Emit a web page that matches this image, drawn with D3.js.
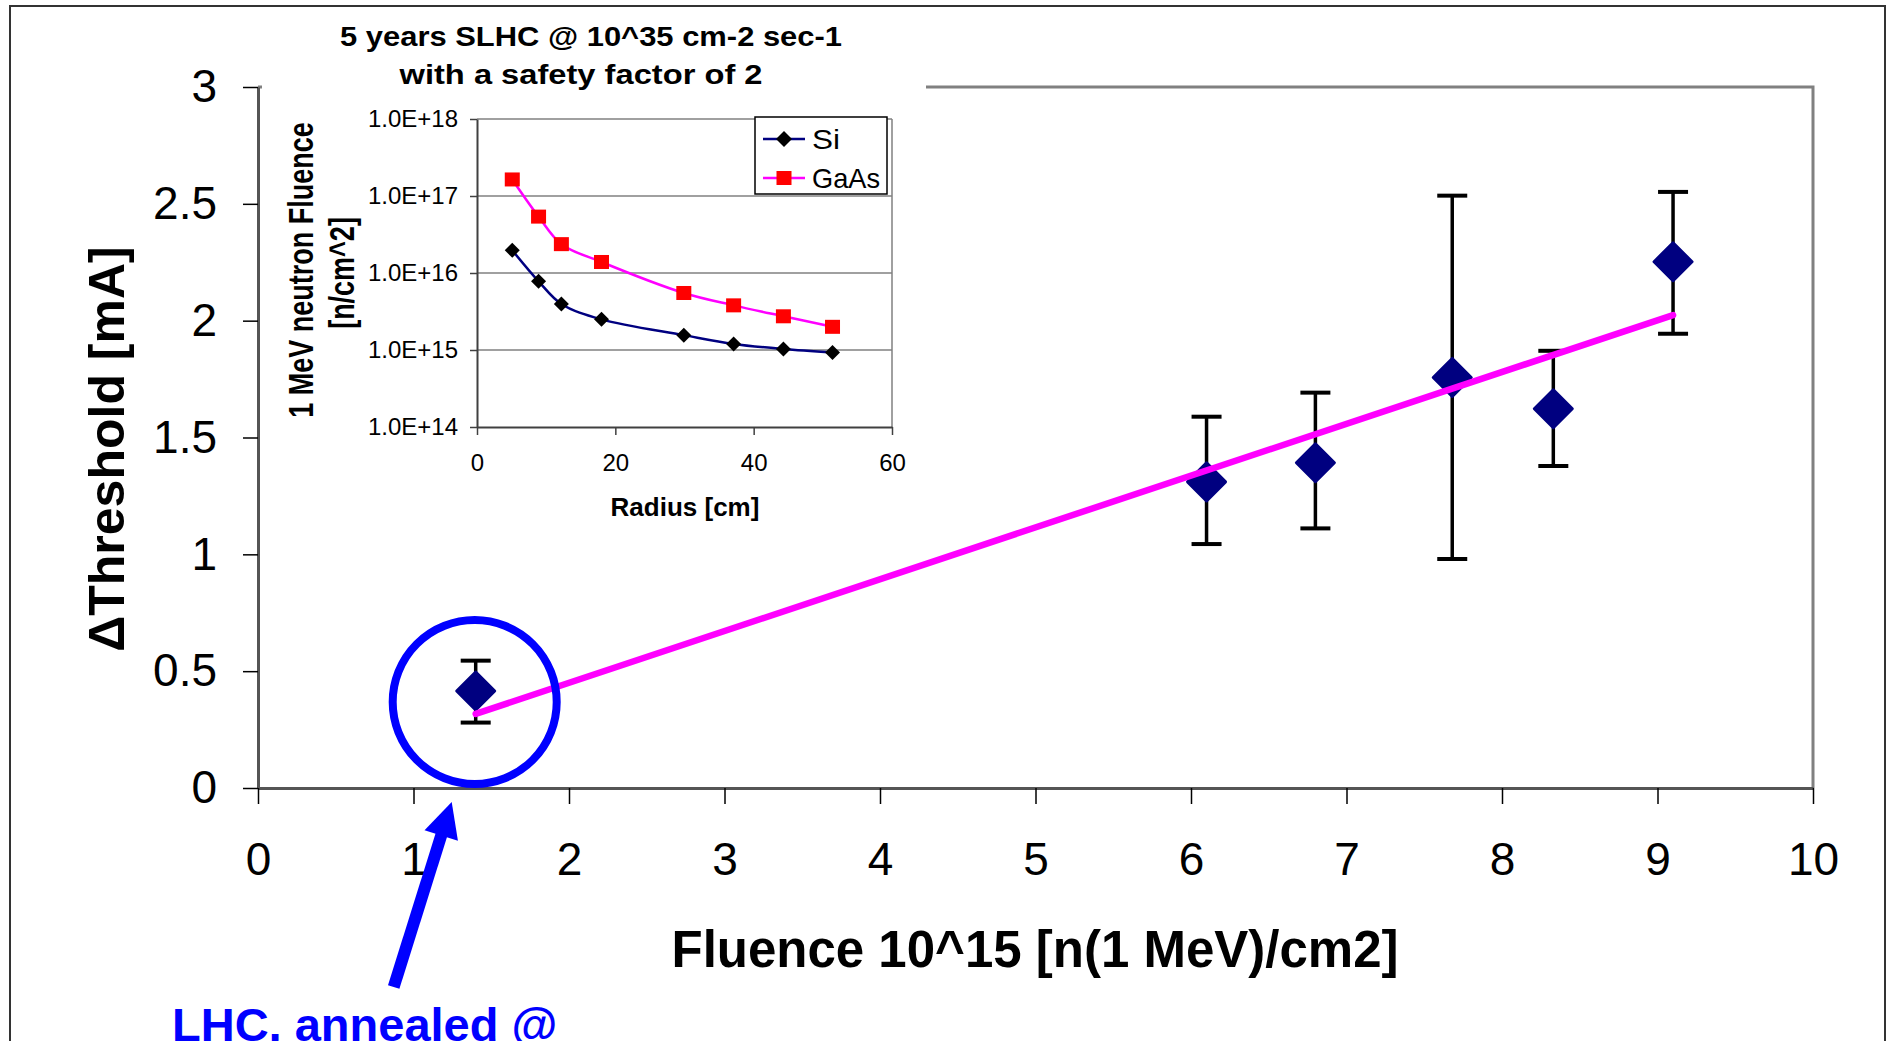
<!DOCTYPE html>
<html>
<head>
<meta charset="utf-8">
<script src="https://cdn.jsdelivr.net/npm/d3@7"></script>
<style>
  body { margin: 0; background: #fff; }
  svg { display: block; font-family: "Liberation Sans", Arial, sans-serif; }
</style>
</head>
<body>
<div id="chart"></div>
<script>
// main chart: threshold shift vs fluence
const fluence   = [1.4, 6.1, 6.8, 7.68, 8.33, 9.1];
const threshold = [0.415, 1.31, 1.392, 1.757, 1.623, 2.252];
const errLow    = [0.28, 1.044, 1.111, 0.98, 1.378, 1.944];
const errHigh   = [0.545, 1.589, 1.692, 2.535, 1.871, 2.551];
const fitX = [1.4, 9.1];
const fitY = [0.317, 2.024];
const xTicks = [0, 1, 2, 3, 4, 5, 6, 7, 8, 9, 10];
const yTicks = [0, 0.5, 1, 1.5, 2, 2.5, 3];

// inset: fluence vs radius
const radius = [5.1, 8.9, 12.2, 18, 29.9, 37.1, 44.3, 51.4];
const siFluence   = [1.97e16, 7.8e15, 3.96e15, 2.5e15, 1.56e15, 1.2e15, 1.03e15, 9.3e14];
const gaasFluence = [1.64e17, 5.4e16, 2.37e16, 1.39e16, 5.5e15, 3.8e15, 2.74e15, 2.0e15];
const insetXTicks = [0, 20, 40, 60];
const insetYTicks = [1e14, 1e15, 1e16, 1e17, 1e18];

const W = 1891, H = 1041;
const svg = d3.select("#chart").append("svg")
  .attr("width", W)
  .attr("height", H);

// outer frame
svg.append("rect")
  .attr("x", 10).attr("y", 6)
  .attr("width", 1875).attr("height", 1100)
  .attr("fill", "none")
  .attr("stroke", "#333")
  .attr("stroke-width", 2);

const plot = { left: 258, right: 1813, top: 87, bottom: 788 };
const x = d3.scaleLinear().domain([0, 10]).range([plot.left, plot.right]);
const y = d3.scaleLinear().domain([0, 3]).range([plot.bottom, plot.top]);

// top / right border of plot area
svg.append("path")
  .attr("d", `M${plot.left},${plot.top}H${plot.right}V${plot.bottom}`)
  .attr("fill", "none")
  .attr("stroke", "#808080")
  .attr("stroke-width", 3);

// axes
const yAxis = svg.append("g")
  .attr("transform", `translate(${plot.left},0)`)
  .call(d3.axisLeft(y).tickValues(yTicks).tickSize(15).tickSizeOuter(0)
    .tickPadding(26).tickFormat(d3.format("")));
const xAxis = svg.append("g")
  .attr("transform", `translate(0,${plot.bottom})`)
  .call(d3.axisBottom(x).tickValues(xTicks).tickSize(16).tickSizeOuter(0)
    .tickPadding(38).tickFormat(d3.format("")));

[yAxis, xAxis].forEach(g => {
  g.select(".domain").attr("stroke", "#555").attr("stroke-width", 3);
  g.selectAll(".tick line").attr("stroke", "#000").attr("stroke-width", 1.5);
  g.selectAll(".tick text")
    .attr("font-size", 46)
    .attr("font-family", "Liberation Sans, Arial, sans-serif")
    .attr("fill", "#000");
});

// axis titles
svg.append("text")
  .attr("transform", `translate(124,449) rotate(-90)`)
  .attr("text-anchor", "middle")
  .attr("font-size", 50)
  .attr("font-weight", "bold")
  .text("\u0394Threshold [mA]");

svg.append("text")
  .attr("x", 1035).attr("y", 967)
  .attr("text-anchor", "middle")
  .attr("font-size", 51)
  .attr("font-weight", "bold")
  .text("Fluence 10^15 [n(1 MeV)/cm2]");

const points = fluence.map((f, i) => ({
  x: f, y: threshold[i], lo: errLow[i], hi: errHigh[i]
}));

// error bars
const err = svg.append("g").attr("stroke", "#000");
err.selectAll(".stem").data(points).join("line")
  .attr("x1", d => x(d.x)).attr("x2", d => x(d.x))
  .attr("y1", d => y(d.lo)).attr("y2", d => y(d.hi))
  .attr("stroke-width", 3.5);
err.selectAll(".capHi").data(points).join("line")
  .attr("x1", d => x(d.x) - 15).attr("x2", d => x(d.x) + 15)
  .attr("y1", d => y(d.hi)).attr("y2", d => y(d.hi))
  .attr("stroke-width", 4);
err.selectAll(".capLo").data(points).join("line")
  .attr("x1", d => x(d.x) - 15).attr("x2", d => x(d.x) + 15)
  .attr("y1", d => y(d.lo)).attr("y2", d => y(d.lo))
  .attr("stroke-width", 4);

// diamonds
svg.append("g").selectAll("path").data(points).join("path")
  .attr("transform", d => `translate(${x(d.x)},${y(d.y)})`)
  .attr("d", "M0,-19L19,0L0,19L-19,0Z")
  .attr("fill", "#000080")
  .attr("stroke", "#000080")
  .attr("stroke-width", 3)
  .attr("stroke-linejoin", "round");

// linear fit
const fit = fitX.map((v, i) => ({ x: v, y: fitY[i] }));
svg.append("path")
  .datum(fit)
  .attr("d", d3.line().x(d => x(d.x)).y(d => y(d.y)))
  .attr("fill", "none")
  .attr("stroke", "#ff00ff")
  .attr("stroke-width", 6.5)
  .attr("stroke-linecap", "round");

// annotation: circle round the LHC point, arrow and label
const cx = x(fluence[0]) - 1, cy = y(0.368);
svg.append("circle")
  .attr("cx", cx).attr("cy", cy).attr("r", 82)
  .attr("fill", "none")
  .attr("stroke", "#0000ff")
  .attr("stroke-width", 8);

const tip = [cx - 23, plot.bottom + 14];
const tail = [cx - 81, plot.bottom + 199];
const len = Math.hypot(tip[0] - tail[0], tip[1] - tail[1]);
const u = [(tip[0] - tail[0]) / len, (tip[1] - tail[1]) / len];
const base = [tip[0] - 35 * u[0], tip[1] - 35 * u[1]];
const n = [-u[1], u[0]];
svg.append("line")
  .attr("x1", tail[0]).attr("y1", tail[1])
  .attr("x2", base[0] + 2 * u[0]).attr("y2", base[1] + 2 * u[1])
  .attr("stroke", "#0000ff")
  .attr("stroke-width", 12);
svg.append("path")
  .attr("d", `M${tip[0]},${tip[1]}L${base[0] + 17.5 * n[0]},${base[1] + 17.5 * n[1]}L${base[0] - 17.5 * n[0]},${base[1] - 17.5 * n[1]}Z`)
  .attr("fill", "#0000ff");

svg.append("text")
  .attr("x", 172).attr("y", 1041)
  .attr("font-size", 47)
  .attr("font-weight", "bold")
  .attr("fill", "#0000ff")
  .text("LHC, annealed @");

// ---------- inset ----------
const inset = svg.append("g");
inset.append("rect")
  .attr("x", 262).attr("y", 8)
  .attr("width", 664).attr("height", 532)
  .attr("fill", "#fff");

const ins = { left: 477, right: 892, top: 119, bottom: 427 };
const ix = d3.scaleLinear().domain([0, 60]).range([ins.left, ins.right]);
const iy = d3.scaleLog().domain([1e14, 1e18]).range([ins.bottom, ins.top]);

// gridlines + right border
inset.append("g").selectAll("line").data(insetYTicks.slice(1)).join("line")
  .attr("x1", ins.left).attr("x2", ins.right)
  .attr("y1", d => iy(d)).attr("y2", d => iy(d))
  .attr("stroke", "#808080")
  .attr("stroke-width", 1.5);
inset.append("line")
  .attr("x1", ins.right).attr("x2", ins.right)
  .attr("y1", ins.top).attr("y2", ins.bottom)
  .attr("stroke", "#808080")
  .attr("stroke-width", 1.5);

const iyAxis = inset.append("g")
  .attr("transform", `translate(${ins.left},0)`)
  .call(d3.axisLeft(iy).tickValues(insetYTicks).tickSize(7).tickSizeOuter(0)
    .tickPadding(12).tickFormat(d => "1.0E+" + Math.round(Math.log10(d))));
const ixAxis = inset.append("g")
  .attr("transform", `translate(0,${ins.bottom})`)
  .call(d3.axisBottom(ix).tickValues(insetXTicks).tickSize(8).tickSizeOuter(0)
    .tickPadding(19));
[iyAxis, ixAxis].forEach(g => {
  g.select(".domain").attr("stroke", "#404040").attr("stroke-width", 2);
  g.selectAll(".tick line").attr("stroke", "#404040").attr("stroke-width", 1.5);
  g.selectAll(".tick text")
    .attr("font-size", 24)
    .attr("font-family", "Liberation Sans, Arial, sans-serif")
    .attr("fill", "#000");
});

const siData = radius.map((r, i) => ({ x: r, y: siFluence[i] }));
const gaasData = radius.map((r, i) => ({ x: r, y: gaasFluence[i] }));
const curve = d3.line().x(d => ix(d.x)).y(d => iy(d.y)).curve(d3.curveCatmullRom.alpha(0.5));

inset.append("path").datum(siData)
  .attr("d", curve)
  .attr("fill", "none").attr("stroke", "#000080").attr("stroke-width", 2.5);
inset.append("path").datum(gaasData)
  .attr("d", curve)
  .attr("fill", "none").attr("stroke", "#ff00ff").attr("stroke-width", 2.5);

inset.append("g").selectAll("path").data(siData).join("path")
  .attr("transform", d => `translate(${ix(d.x)},${iy(d.y)})`)
  .attr("d", "M0,-7.5L7.5,0L0,7.5L-7.5,0Z")
  .attr("fill", "#000");
inset.append("g").selectAll("rect").data(gaasData).join("rect")
  .attr("x", d => ix(d.x) - 7.5).attr("y", d => iy(d.y) - 7)
  .attr("width", 15).attr("height", 14)
  .attr("fill", "#ff0000");

// legend
const lg = inset.append("g");
lg.append("rect")
  .attr("x", 755).attr("y", 117)
  .attr("width", 132).attr("height", 77)
  .attr("fill", "#fff")
  .attr("stroke", "#000")
  .attr("stroke-width", 1.5);
const legendItems = [
  { name: "Si", color: "#000080", y: 139 },
  { name: "GaAs", color: "#ff00ff", y: 178 }
];
legendItems.forEach((it, i) => {
  lg.append("line")
    .attr("x1", 763).attr("x2", 805)
    .attr("y1", it.y).attr("y2", it.y)
    .attr("stroke", it.color).attr("stroke-width", 2.5);
  if (i === 0) {
    lg.append("path")
      .attr("transform", `translate(784,${it.y})`)
      .attr("d", "M0,-8L8,0L0,8L-8,0Z")
      .attr("fill", "#000");
  } else {
    lg.append("rect")
      .attr("x", 776.5).attr("y", it.y - 7)
      .attr("width", 15).attr("height", 14)
      .attr("fill", "#ff0000");
  }
  lg.append("text")
    .attr("x", 812).attr("y", it.y + 10)
    .attr("font-size", 28)
    .attr("textLength", it.name === "Si" ? 28 : 68)
    .attr("lengthAdjust", "spacingAndGlyphs")
    .text(it.name);
});

// inset titles
inset.append("text")
  .attr("x", 591).attr("y", 46)
  .attr("text-anchor", "middle")
  .attr("font-size", 28).attr("font-weight", "bold")
  .attr("textLength", 502).attr("lengthAdjust", "spacingAndGlyphs")
  .text("5 years SLHC @ 10^35 cm-2 sec-1");
inset.append("text")
  .attr("x", 581).attr("y", 84)
  .attr("text-anchor", "middle")
  .attr("font-size", 28).attr("font-weight", "bold")
  .attr("textLength", 363).attr("lengthAdjust", "spacingAndGlyphs")
  .text("with a safety factor of 2");

inset.append("text")
  .attr("x", 685).attr("y", 516)
  .attr("text-anchor", "middle")
  .attr("font-size", 26).attr("font-weight", "bold")
  .text("Radius [cm]");

inset.append("text")
  .attr("transform", "translate(313,270) scale(1.3,1) rotate(-90)")
  .attr("text-anchor", "middle")
  .attr("font-size", 27).attr("font-weight", "bold")
  .text("1 MeV neutron Fluence");
inset.append("text")
  .attr("transform", "translate(354,273) scale(1.3,1) rotate(-90)")
  .attr("text-anchor", "middle")
  .attr("font-size", 27).attr("font-weight", "bold")
  .text("[n/cm^2]");
</script>
</body>
</html>
